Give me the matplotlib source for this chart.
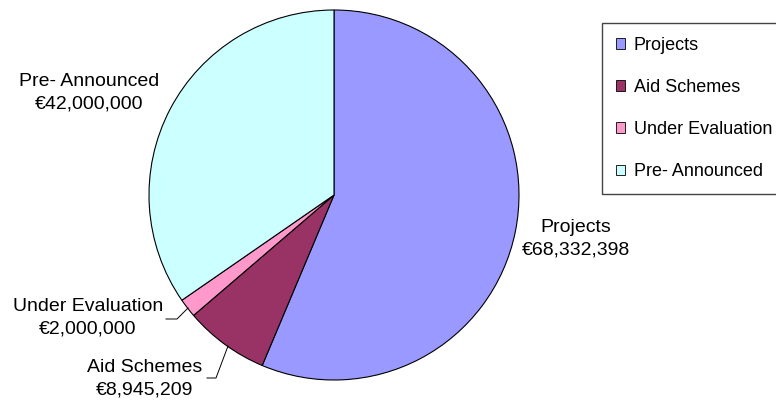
import matplotlib.pyplot as plt
from matplotlib.patches import Patch

plt.rcParams['font.family'] = ['Liberation Sans', 'DejaVu Sans']

# data
categories = ["Projects", "Aid Schemes", "Under Evaluation", "Pre- Announced"]
amounts = [68332398, 8945209, 2000000, 42000000]
colors = ["#9999FF", "#993366", "#FF99CC", "#CCFFFF"]

W, H = 776, 400
fig = plt.figure(figsize=(W / 100, H / 100), dpi=100)
ax = fig.add_axes([0, 0, 1, 1])

# pie centred at (334, 195) px from top-left, radius 185 px
cx, cy, r = 334, H - 195, 185
wedges, _ = ax.pie(amounts, colors=colors, startangle=90, counterclock=False,
                   center=(cx, cy), radius=r,
                   wedgeprops=dict(edgecolor="black", linewidth=0.8))
ax.set_xlim(0, W)
ax.set_ylim(0, H)
ax.set_aspect("equal")
ax.axis("off")

fs = 14
def money(v):
    return "€{:,}".format(v)

# data labels (pixel positions from top-left)
label_pos = {
    "Projects": (576, 239),
    "Aid Schemes": (145, 379),
    "Under Evaluation": (88, 318),
    "Pre- Announced": (89, 93),
}
for name, v in zip(categories, amounts):
    x, y = label_pos[name]
    ax.text(x, H - y, name + "\n" + money(v), ha="center", va="center",
            fontsize=fs, linespacing=1.45)

# leader lines
ax.plot([166, 177, 188], [H - 319, H - 319, H - 308], color="black", lw=0.7)
ax.plot([207, 216, 228], [H - 378, H - 378, H - 346], color="black", lw=0.7)

handles = [Patch(facecolor=c, edgecolor="black", linewidth=0.6) for c in colors]
leg = fig.legend(handles, categories, loc="upper left",
                 bbox_to_anchor=(602 / W, 1 - 23 / H), fontsize=13,
                 frameon=True, fancybox=False, framealpha=1,
                 handlelength=0.55, handleheight=0.55, handletextpad=0.45,
                 labelspacing=1.4, borderpad=0.75, borderaxespad=0)
leg.get_frame().set_edgecolor("#444444")
leg.get_frame().set_linewidth(1.0)

fig.savefig("out.png", dpi=100)
